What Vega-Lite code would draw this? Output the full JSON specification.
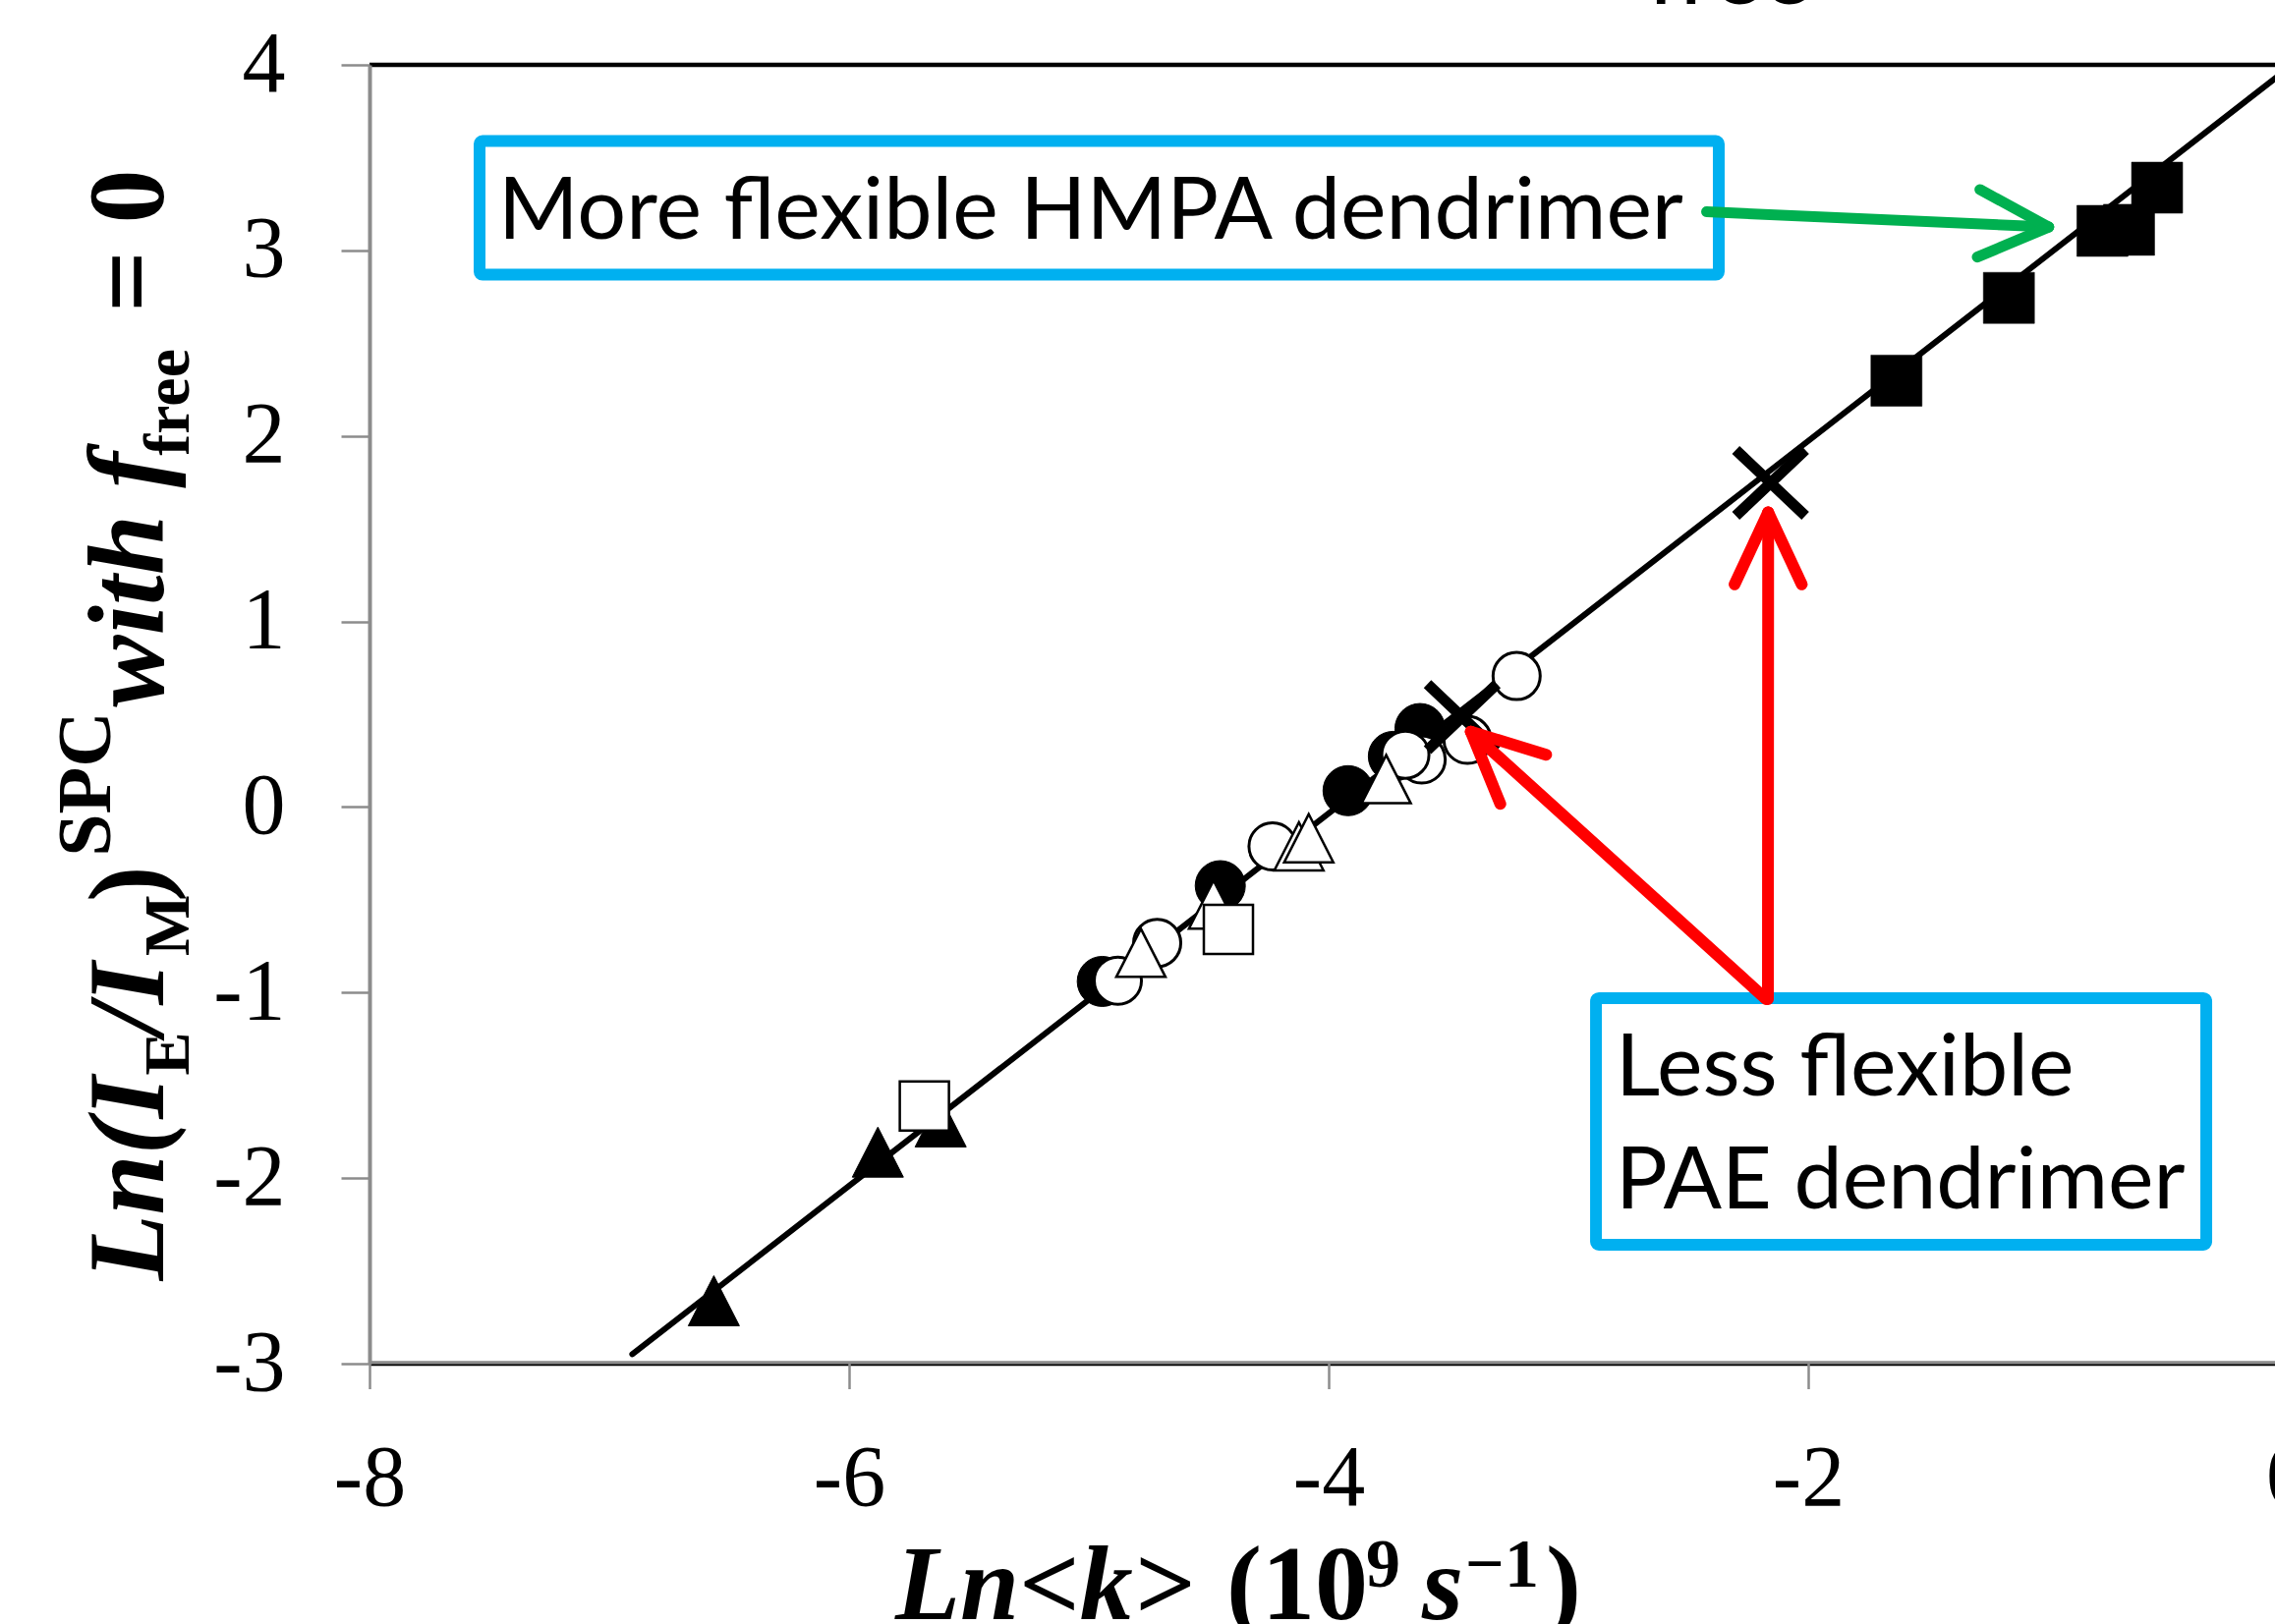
{
  "$schema": "https://vega.github.io/schema/vega-lite/v6.json",
  "autosize": {"type": "none"},
  "padding": {"left": 376, "top": 66, "right": 0, "bottom": 265},
  "width": 1939,
  "height": 1322,
  "background": "white",
  "config": {"view": {"stroke": null}, "axis": {"grid": false}},
  "resolve": {"axis": {"x": "independent", "y": "independent"}},
  "datasets": {
    "border": [{"y": 4}, {"y": -3}],
    "fit": [{"x": -6.904, "y": -2.949}, {"x": 0, "y": 3.98}],
    "pts": [
      {"x": -3.619, "y": 0.423, "series": "filled circle"},
      {"x": -3.730, "y": 0.273, "series": "filled circle"},
      {"x": -3.919, "y": 0.088, "series": "filled circle"},
      {"x": -4.452, "y": -0.424, "series": "filled circle"},
      {"x": -4.944, "y": -0.940, "series": "filled circle"},
      {"x": -3.216, "y": 0.706, "series": "open circle"},
      {"x": -3.421, "y": 0.362, "series": "open circle"},
      {"x": -3.612, "y": 0.256, "series": "open circle"},
      {"x": -3.680, "y": 0.282, "series": "open circle"},
      {"x": -4.234, "y": -0.212, "series": "open circle"},
      {"x": -4.715, "y": -0.733, "series": "open circle"},
      {"x": -4.879, "y": -0.936, "series": "open circle"},
      {"x": -5.618, "y": -1.697, "series": "filled triangle"},
      {"x": -5.880, "y": -1.860, "series": "filled triangle"},
      {"x": -6.564, "y": -2.661, "series": "filled triangle"},
      {"x": -3.760, "y": 0.150, "series": "open triangle"},
      {"x": -4.124, "y": -0.212, "series": "open triangle"},
      {"x": -4.083, "y": -0.168, "series": "open triangle"},
      {"x": -4.480, "y": -0.526, "series": "open triangle"},
      {"x": -4.783, "y": -0.786, "series": "open triangle"},
      {"x": -4.418, "y": -0.659, "series": "open square"},
      {"x": -5.686, "y": -1.612, "series": "open square"},
      {"x": -1.632, "y": 2.298, "series": "filled square"},
      {"x": -1.163, "y": 2.744, "series": "filled square"},
      {"x": -0.662, "y": 3.111, "series": "filled square"},
      {"x": -0.773, "y": 3.105, "series": "filled square"},
      {"x": -0.545, "y": 3.338, "series": "filled square"},
      {"x": -2.157, "y": 1.747, "series": "cross"},
      {"x": -3.443, "y": 0.485, "series": "cross"}
    ],
    "boxes": [
      {"x1": -7.541, "x2": -2.373, "y1": 3.589, "y2": 2.869},
      {"x1": -2.885, "x2": -0.340, "y1": -1.030, "y2": -2.359}
    ],
    "labels": [
      {"t": "More flexible HMPA dendrimer", "x": -7.463, "y": 3.065},
      {"t": "Less flexible", "x": -2.803, "y": -1.554},
      {"t": "PAE dendrimer", "x": -2.803, "y": -2.163}
    ],
    "red": [
      {"x1": -2.168, "y1": -1.035, "x2": -2.167, "y2": 1.588},
      {"x1": -2.167, "y1": 1.588, "x2": -2.307, "y2": 1.200},
      {"x1": -2.167, "y1": 1.588, "x2": -2.027, "y2": 1.200},
      {"x1": -2.176, "y1": -1.035, "x2": -3.407, "y2": 0.406},
      {"x1": -3.407, "y1": 0.406, "x2": -3.284, "y2": 0.017},
      {"x1": -3.407, "y1": 0.406, "x2": -3.093, "y2": 0.282}
    ],
    "green": [
      {"x1": -2.424, "y1": 3.208, "x2": -0.997, "y2": 3.126},
      {"x1": -0.997, "y1": 3.126, "x2": -1.284, "y2": 3.328},
      {"x1": -0.997, "y1": 3.126, "x2": -1.295, "y2": 2.964}
    ],
    "yt_main_it": [
      {"t": "Ln(I", "x": -8.861, "y": -2.553},
      {"t": "/I", "x": -8.861, "y": -1.226},
      {"t": "with f", "x": -8.861, "y": 0.538}
    ],
    "yt_main": [
      {"t": ")", "x": -8.861, "y": -0.511},
      {"t": "= 0", "x": -8.861, "y": 2.667}
    ],
    "yt_sub": [
      {"t": "E", "x": -8.754, "y": -1.446},
      {"t": "M", "x": -8.754, "y": -0.802},
      {"t": "free", "x": -8.754, "y": 1.894}
    ],
    "yt_sup": [
      {"t": "SPC", "x": -9.08, "y": -0.267}
    ],
    "xt_main_it": [
      {"t": "Ln<k>", "x": -5.807, "y": -4.377},
      {"t": "s", "x": -3.611, "y": -4.377}
    ],
    "xt_main": [
      {"t": "(10", "x": -4.426, "y": -4.377},
      {"t": ")", "x": -3.094, "y": -4.377}
    ],
    "xt_sup": [
      {"t": "9", "x": -3.844, "y": -4.202},
      {"t": "−1", "x": -3.430, "y": -4.202}
    ],
    "edge_tick_label": [
      {"t": "0", "x": 0, "y": -3.389}
    ],
    "topcut": [
      {"t": "free", "x": -2.672, "y": 4.33}
    ]
  },
  "layer": [
    {
      "data": {"name": "fit"},
      "mark": {"type": "line", "color": "black", "strokeWidth": 6, "strokeCap": "round"},
      "encoding": {
        "x": {"field": "x", "type": "quantitative", "scale": {"domain": [-8, -0.0533], "nice": false, "zero": false},
              "axis": {"orient": "bottom", "values": [-8, -6, -4, -2, 0], "offset": -1.5, "zindex": 1,
                       "domainColor": "#8c8c8c", "domainWidth": 3,
                       "tickColor": "#8c8c8c", "tickWidth": 2.5, "tickSize": 27, "labelPadding": 48,
                       "labelFont": "Liberation Serif", "labelFontSize": 88, "labelColor": "black", "labelFlush": false,
                       "labelOverlap": false,
                       "labelExpr": "datum.value < 0 ? '-' + abs(datum.value) : '' + datum.value", "title": null, "grid": false}},
        "y": {"field": "y", "type": "quantitative", "scale": {"domain": [-3, 4], "nice": false, "zero": false},
              "axis": {"orient": "left", "values": [-3, -2, -1, 0, 1, 2, 3, 4], "zindex": 1,
                       "domainColor": "#8c8c8c", "domainWidth": 4,
                       "tickColor": "#8c8c8c", "tickWidth": 2.5, "tickSize": 29, "labelPadding": 57,
                       "labelFont": "Liberation Serif", "labelFontSize": 88, "labelColor": "black", "labelFlush": false,
                       "labelOverlap": false,
                       "labelExpr": "datum.value < 0 ? '-' + abs(datum.value) : '' + datum.value", "title": null, "grid": false}}
      }
    },
    {
      "data": {"name": "border"},
      "mark": {"type": "rule", "color": "black", "strokeWidth": 4.5},
      "encoding": {
        "y": {"field": "y", "type": "quantitative", "scale": {"domain": [-3, 4], "nice": false, "zero": false}, "axis": null}
      }
    },
    {
      "data": {"name": "pts"},
      "mark": {"type": "point", "filled": true, "opacity": 1, "stroke": "black"},
      "encoding": {
        "x": {"field": "x", "type": "quantitative", "scale": {"domain": [-8, -0.0533], "nice": false, "zero": false}, "axis": null},
        "y": {"field": "y", "type": "quantitative", "scale": {"domain": [-3, 4], "nice": false, "zero": false}, "axis": null},
        "shape": {"field": "series", "type": "nominal", "legend": null,
                  "scale": {"domain": ["filled circle", "open circle", "filled triangle", "open triangle", "open square", "filled square", "cross"],
                            "range": ["circle", "circle", "M0,-0.98L-1,0.98L1,0.98Z", "M0,-0.98L-1,0.98L1,0.98Z", "square", "square", "M-1,-0.95L1,0.95M-1,0.95L1,-0.95"]}},
        "fill": {"field": "series", "type": "nominal", "legend": null,
                 "scale": {"domain": ["filled circle", "open circle", "filled triangle", "open triangle", "open square", "filled square", "cross"],
                           "range": ["black", "white", "black", "white", "white", "black", "transparent"]}},
        "size": {"field": "series", "type": "nominal", "legend": null,
                 "scale": {"type": "ordinal", "domain": ["filled circle", "open circle", "filled triangle", "open triangle", "open square", "filled square", "cross"],
                           "range": [2600, 2304, 2704, 2500, 2500, 2704, 5000]}},
        "strokeWidth": {"field": "series", "type": "nominal", "legend": null,
                        "scale": {"type": "ordinal", "domain": ["filled circle", "open circle", "filled triangle", "open triangle", "open square", "filled square", "cross"],
                                  "range": [1, 3, 1, 2.5, 2.5, 0.5, 11]}}
      }
    },
    {
      "data": {"name": "boxes"},
      "mark": {"type": "rect", "fill": "white", "stroke": "#00B0F0", "strokeWidth": 12, "cornerRadius": 3},
      "encoding": {
        "x": {"field": "x1", "type": "quantitative", "scale": {"domain": [-8, -0.0533], "nice": false, "zero": false}, "axis": null},
        "x2": {"field": "x2"},
        "y": {"field": "y1", "type": "quantitative", "scale": {"domain": [-3, 4], "nice": false, "zero": false}, "axis": null},
        "y2": {"field": "y2"}
      }
    },
    {
      "data": {"name": "labels"},
      "mark": {"type": "text", "font": "Lato", "fontSize": 88, "align": "left", "baseline": "alphabetic", "color": "black"},
      "encoding": {
        "x": {"field": "x", "type": "quantitative", "scale": {"domain": [-8, -0.0533], "nice": false, "zero": false}, "axis": null},
        "y": {"field": "y", "type": "quantitative", "scale": {"domain": [-3, 4], "nice": false, "zero": false}, "axis": null},
        "text": {"field": "t", "type": "nominal"}
      }
    },
    {
      "data": {"name": "red"},
      "mark": {"type": "rule", "color": "#FF0000", "strokeWidth": 12, "strokeCap": "round"},
      "encoding": {
        "x": {"field": "x1", "type": "quantitative", "scale": {"domain": [-8, -0.0533], "nice": false, "zero": false}, "axis": null},
        "y": {"field": "y1", "type": "quantitative", "scale": {"domain": [-3, 4], "nice": false, "zero": false}, "axis": null},
        "x2": {"field": "x2"},
        "y2": {"field": "y2"}
      }
    },
    {
      "data": {"name": "green"},
      "mark": {"type": "rule", "color": "#00B050", "strokeWidth": 11, "strokeCap": "round"},
      "encoding": {
        "x": {"field": "x1", "type": "quantitative", "scale": {"domain": [-8, -0.0533], "nice": false, "zero": false}, "axis": null},
        "y": {"field": "y1", "type": "quantitative", "scale": {"domain": [-3, 4], "nice": false, "zero": false}, "axis": null},
        "x2": {"field": "x2"},
        "y2": {"field": "y2"}
      }
    },
    {
      "data": {"name": "yt_main_it"},
      "mark": {"type": "text", "font": "Liberation Serif", "fontWeight": "bold", "fontStyle": "italic", "fontSize": 110, "angle": 270, "align": "left", "baseline": "alphabetic", "color": "black"},
      "encoding": {
        "x": {"field": "x", "type": "quantitative", "scale": {"domain": [-8, -0.0533], "nice": false, "zero": false}, "axis": null},
        "y": {"field": "y", "type": "quantitative", "scale": {"domain": [-3, 4], "nice": false, "zero": false}, "axis": null},
        "text": {"field": "t", "type": "nominal"}
      }
    },
    {
      "data": {"name": "yt_main"},
      "mark": {"type": "text", "font": "Liberation Serif", "fontWeight": "bold", "fontSize": 110, "angle": 270, "align": "left", "baseline": "alphabetic", "color": "black"},
      "encoding": {
        "x": {"field": "x", "type": "quantitative", "scale": {"domain": [-8, -0.0533], "nice": false, "zero": false}, "axis": null},
        "y": {"field": "y", "type": "quantitative", "scale": {"domain": [-3, 4], "nice": false, "zero": false}, "axis": null},
        "text": {"field": "t", "type": "nominal"}
      }
    },
    {
      "data": {"name": "yt_sub"},
      "mark": {"type": "text", "font": "Liberation Serif", "fontWeight": "bold", "fontSize": 66, "angle": 270, "align": "left", "baseline": "alphabetic", "color": "black"},
      "encoding": {
        "x": {"field": "x", "type": "quantitative", "scale": {"domain": [-8, -0.0533], "nice": false, "zero": false}, "axis": null},
        "y": {"field": "y", "type": "quantitative", "scale": {"domain": [-3, 4], "nice": false, "zero": false}, "axis": null},
        "text": {"field": "t", "type": "nominal"}
      }
    },
    {
      "data": {"name": "yt_sup"},
      "mark": {"type": "text", "font": "Liberation Serif", "fontWeight": "bold", "fontSize": 78, "angle": 270, "align": "left", "baseline": "alphabetic", "color": "black"},
      "encoding": {
        "x": {"field": "x", "type": "quantitative", "scale": {"domain": [-8, -0.0533], "nice": false, "zero": false}, "axis": null},
        "y": {"field": "y", "type": "quantitative", "scale": {"domain": [-3, 4], "nice": false, "zero": false}, "axis": null},
        "text": {"field": "t", "type": "nominal"}
      }
    },
    {
      "data": {"name": "xt_main_it"},
      "mark": {"type": "text", "font": "Liberation Serif", "fontWeight": "bold", "fontStyle": "italic", "fontSize": 108, "align": "left", "baseline": "alphabetic", "color": "black"},
      "encoding": {
        "x": {"field": "x", "type": "quantitative", "scale": {"domain": [-8, -0.0533], "nice": false, "zero": false}, "axis": null},
        "y": {"field": "y", "type": "quantitative", "scale": {"domain": [-3, 4], "nice": false, "zero": false}, "axis": null},
        "text": {"field": "t", "type": "nominal"}
      }
    },
    {
      "data": {"name": "xt_main"},
      "mark": {"type": "text", "font": "Liberation Serif", "fontWeight": "bold", "fontSize": 108, "align": "left", "baseline": "alphabetic", "color": "black"},
      "encoding": {
        "x": {"field": "x", "type": "quantitative", "scale": {"domain": [-8, -0.0533], "nice": false, "zero": false}, "axis": null},
        "y": {"field": "y", "type": "quantitative", "scale": {"domain": [-3, 4], "nice": false, "zero": false}, "axis": null},
        "text": {"field": "t", "type": "nominal"}
      }
    },
    {
      "data": {"name": "xt_sup"},
      "mark": {"type": "text", "font": "Liberation Serif", "fontWeight": "bold", "fontSize": 70, "align": "left", "baseline": "alphabetic", "color": "black"},
      "encoding": {
        "x": {"field": "x", "type": "quantitative", "scale": {"domain": [-8, -0.0533], "nice": false, "zero": false}, "axis": null},
        "y": {"field": "y", "type": "quantitative", "scale": {"domain": [-3, 4], "nice": false, "zero": false}, "axis": null},
        "text": {"field": "t", "type": "nominal"}
      }
    },
    {
      "data": {"name": "edge_tick_label"},
      "mark": {"type": "text", "font": "Liberation Serif", "fontSize": 88, "align": "center", "baseline": "top", "color": "black"},
      "encoding": {
        "x": {"field": "x", "type": "quantitative", "scale": {"domain": [-8, -0.0533], "nice": false, "zero": false}, "axis": null},
        "y": {"field": "y", "type": "quantitative", "scale": {"domain": [-3, 4], "nice": false, "zero": false}, "axis": null},
        "text": {"field": "t", "type": "nominal"}
      }
    },
    {
      "data": {"name": "topcut"},
      "mark": {"type": "text", "font": "Lato", "fontSize": 96, "align": "left", "baseline": "alphabetic", "color": "black"},
      "encoding": {
        "x": {"field": "x", "type": "quantitative", "scale": {"domain": [-8, -0.0533], "nice": false, "zero": false}, "axis": null},
        "y": {"field": "y", "type": "quantitative", "scale": {"domain": [-3, 4], "nice": false, "zero": false}, "axis": null},
        "text": {"field": "t", "type": "nominal"}
      }
    }
  ]
}
